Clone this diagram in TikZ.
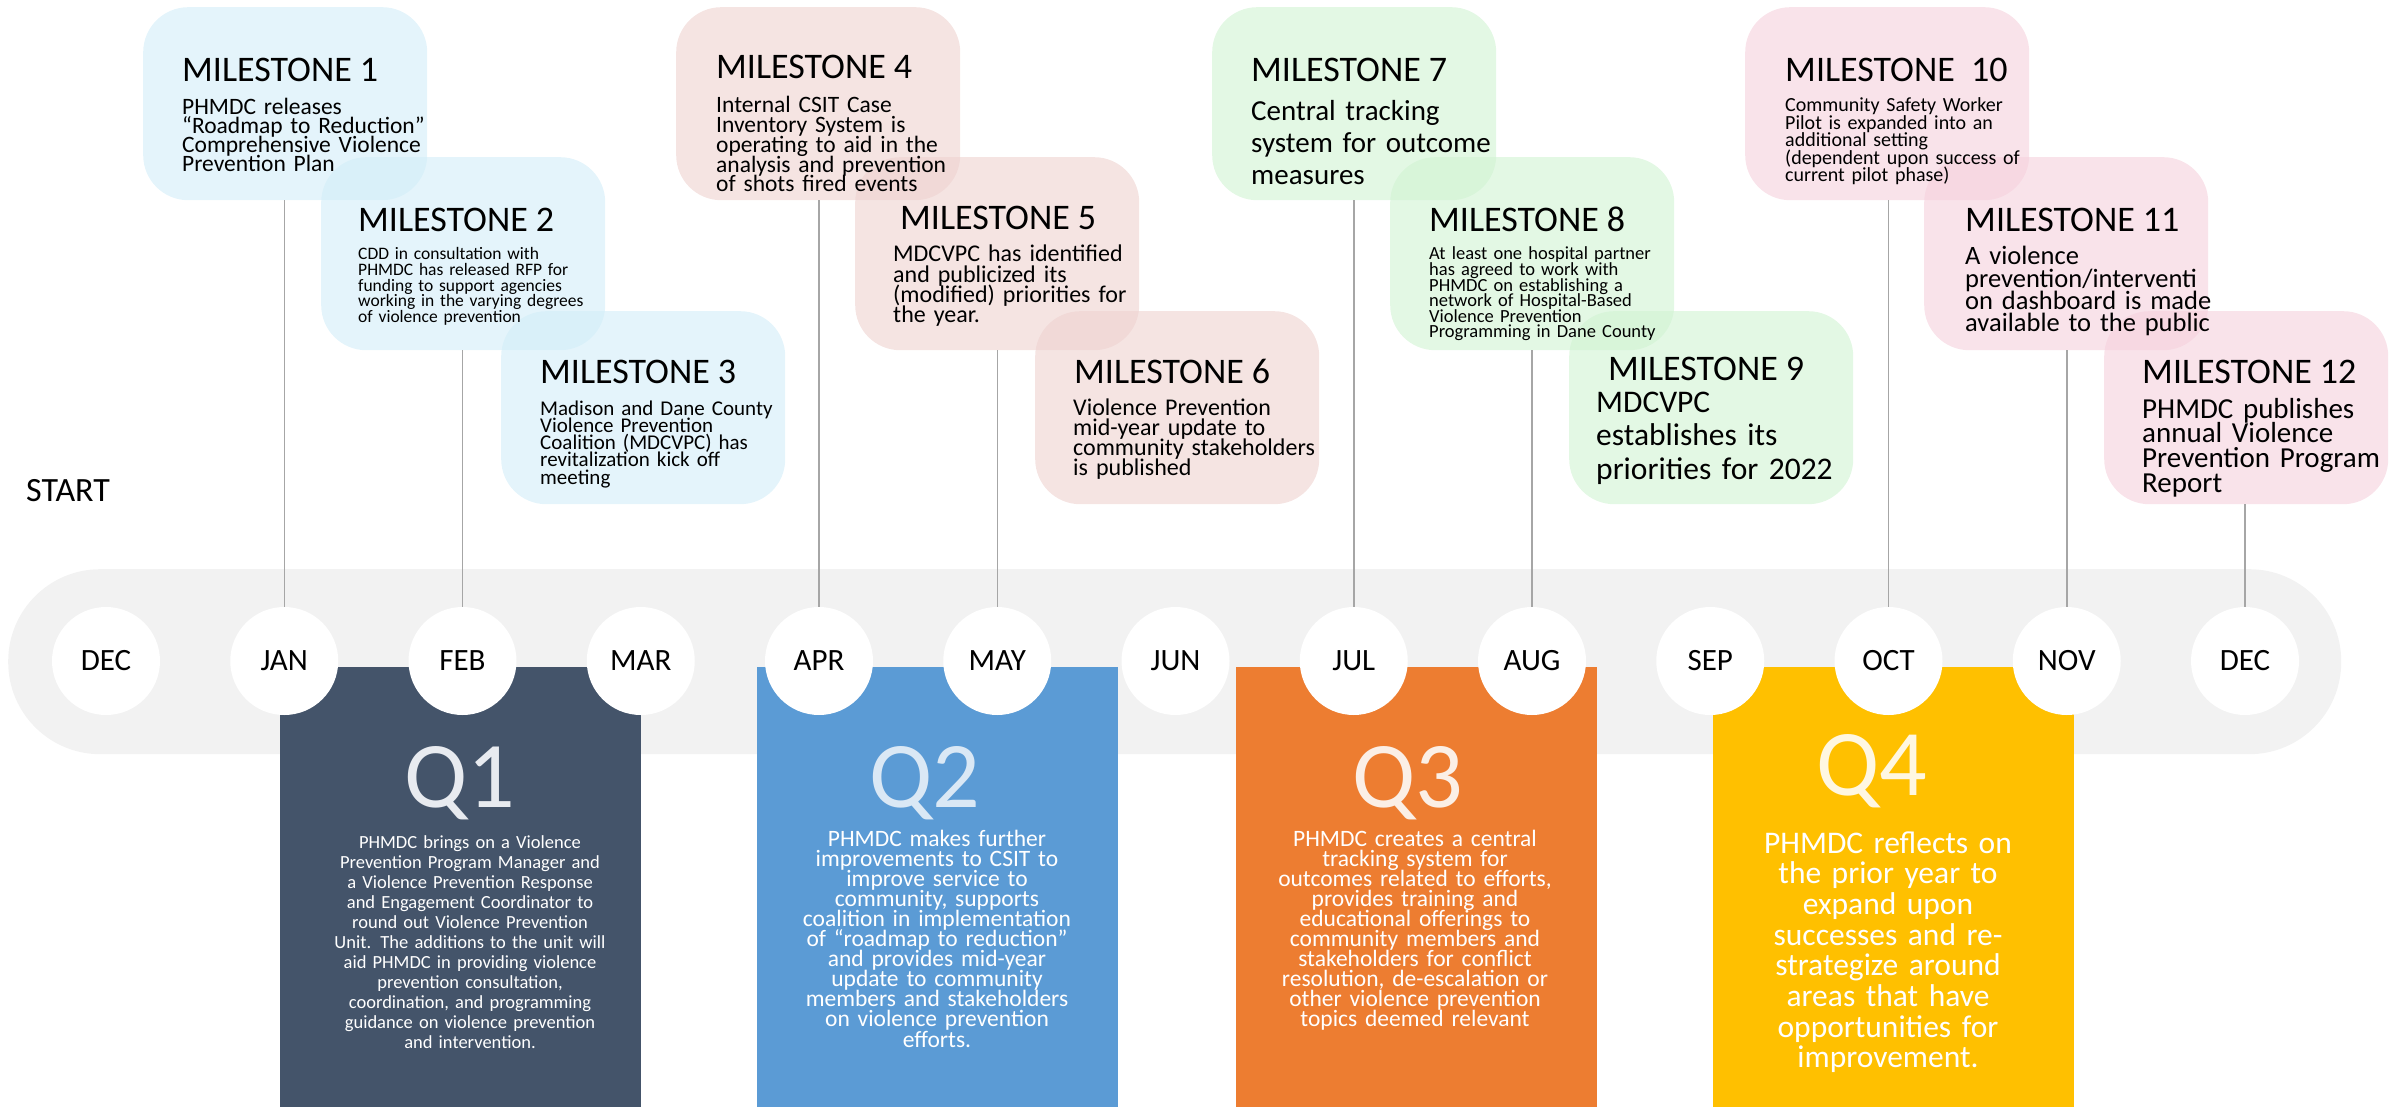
\documentclass[tikz,border=0pt]{standalone}
\usepackage{fontspec}
\setmainfont{Carlito}
\definecolor{bandgray}{HTML}{F2F2F2}
\definecolor{linegray}{HTML}{A6A6A6}
\definecolor{qone}{HTML}{44546A}
\definecolor{qtwo}{HTML}{5B9BD5}
\definecolor{qthree}{HTML}{ED7D31}
\definecolor{qfour}{HTML}{FFC000}
\definecolor{qonel}{HTML}{E8EBF0}
\definecolor{qtwol}{HTML}{DAE8F5}
\definecolor{qthreel}{HTML}{FBEFE6}
\definecolor{qfourl}{HTML}{FFF7E1}
\definecolor{msblue}{RGB}{210,237,248}
\definecolor{msrose}{RGB}{238,210,207}
\definecolor{msgreen}{RGB}{208,243,210}
\definecolor{mspink}{RGB}{245,208,220}
\newcommand\fs[2]{\fontsize{#1}{#2}\selectfont\lineskiplimit=-100pt\relax}
\tikzset{
  msbox/.style={rounded corners=45, minimum width=284, minimum height=193, anchor=north west, inner sep=0, fill opacity=0.6, draw=none},
  mstitle/.style={anchor=base west, inner sep=0, font=\fs{36}{40}},
  msbody/.style={anchor=base west, inner sep=0, text width=300, align=left},
  conn/.style={draw=linegray, line width=1.5},
  month/.style={circle, fill=white, minimum size=108, inner sep=0, font=\fs{31}{36}},
  qbox/.style={anchor=north west, minimum width=361, minimum height=440, inner sep=0},
  qlabel/.style={anchor=base, inner sep=0, font=\fs{94}{100}},
  qbody/.style={anchor=base, inner sep=0, text width=345, align=center, text=white},
}
\begin{document}
\begin{tikzpicture}[x=1pt,y=-1pt]
\useasboundingbox (0,0) rectangle (2399,1107);
% band
\node[fill=bandgray, rounded corners=92, minimum width=2333, minimum height=185, anchor=north west, inner sep=0] (band) at (8,569) {};
% quarter boxes
\node[qbox, fill=qone] (q1box) at (280,667) {};
\node[qbox, fill=qtwo] (q2box) at (757,667) {};
\node[qbox, fill=qthree] (q3box) at (1236,667) {};
\node[qbox, fill=qfour] (q4box) at (1713,667) {};
% months
\node[month] (mdeca) at (106,661) {DEC};
\node[month] (mjan) at (284.25,661) {JAN};
\node[month] (mfeb) at (462.5,661) {FEB};
\node[month] (mmar) at (640.75,661) {MAR};
\node[month] (mapr) at (819,661) {APR};
\node[month] (mmay) at (997.25,661) {MAY};
\node[month] (mjun) at (1175.5,661) {JUN};
\node[month] (mjul) at (1353.75,661) {JUL};
\node[month] (maug) at (1532,661) {AUG};
\node[month] (msep) at (1710.25,661) {SEP};
\node[month] (moct) at (1888.5,661) {OCT};
\node[month] (mnov) at (2066.75,661) {NOV};
\node[month] (mdecb) at (2245,661) {DEC};
% START
\node[anchor=west, inner sep=0, font=\fs{34}{40}] (start) at (26,491) {START};
% milestone boxes
\node[msbox, fill=msblue] (m1) at (143,7) {};
\node[msbox, fill=msblue] (m2) at (321,157) {};
\node[msbox, fill=msblue] (m3) at (501,311) {};
\node[msbox, fill=msrose] (m4) at (676,7) {};
\node[msbox, fill=msrose] (m5) at (855,157) {};
\node[msbox, fill=msrose] (m6) at (1035,311) {};
\node[msbox, fill=msgreen] (m7) at (1212,7) {};
\node[msbox, fill=msgreen] (m8) at (1390,157) {};
\node[msbox, fill=msgreen] (m9) at (1569,311) {};
\node[msbox, fill=mspink] (m10) at (1745,7) {};
\node[msbox, fill=mspink] (m11) at (1924,157) {};
\node[msbox, fill=mspink] (m12) at (2104,311) {};
% connectors
\draw[conn] (m1.south -| mjan) -- (mjan.north);
\draw[conn] (m2.south -| mfeb) -- (mfeb.north);
\draw[conn] (m4.south -| mapr) -- (mapr.north);
\draw[conn] (m5.south -| mmay) -- (mmay.north);
\draw[conn] (m7.south -| mjul) -- (mjul.north);
\draw[conn] (m8.south -| maug) -- (maug.north);
\draw[conn] (m10.south -| moct) -- (moct.north);
\draw[conn] (m11.south -| mnov) -- (mnov.north);
\draw[conn] (m12.south -| mdecb) -- (mdecb.north);
% milestone texts
\node[mstitle] (t1) at (182,82) {MILESTONE 1};
\node[msbody, font=\fs{23.5}{19}] (b1) at (182,115) {PHMDC releases\\“Roadmap to Reduction”\\Comprehensive Violence\\Prevention Plan};
\node[mstitle] (t2) at (358,232) {MILESTONE 2};
\node[msbody, font=\fs{17.5}{15.6}] (b2) at (358,260) {CDD in consultation with\\PHMDC has released RFP for\\funding to support agencies\\working in the varying degrees\\of violence prevention};
\node[mstitle] (t3) at (540,383) {MILESTONE 3};
\node[msbody, font=\fs{21}{17.3}] (b3) at (540,415) {Madison and Dane County\\Violence Prevention\\Coalition (MDCVPC) has\\revitalization kick off\\meeting};
\node[mstitle] (t4) at (716,79) {MILESTONE 4};
\node[msbody, font=\fs{23.5}{19.75}] (b4) at (716,113) {Internal CSIT Case\\Inventory System is\\operating to aid in the\\analysis and prevention\\of shots fired events};
\node[mstitle] (t5) at (900,230) {MILESTONE 5};
\node[msbody, font=\fs{24}{20.3}] (b5) at (893,262) {MDCVPC has identified\\and publicized its\\(modified) priorities for\\the year.};
\node[mstitle] (t6) at (1074,383) {MILESTONE 6};
\node[msbody, font=\fs{24}{20}] (b6) at (1073,415) {Violence Prevention\\mid-year update to\\community stakeholders\\is published};
\node[mstitle] (t7) at (1251,82) {MILESTONE 7};
\node[msbody, font=\fs{29}{32}] (b7) at (1251,121) {Central tracking\\system for outcome\\measures};
\node[mstitle] (t8) at (1429,232) {MILESTONE 8};
\node[msbody, font=\fs{18.5}{15.6}] (b8) at (1429,260) {At least one hospital partner\\has agreed to work with\\PHMDC on establishing a\\network of Hospital-Based\\Violence Prevention\\Programming in Dane County};
\node[mstitle] (t9) at (1608,380) {MILESTONE 9};
\node[msbody, font=\fs{31.5}{33.6}] (b9) at (1596,412) {MDCVPC\\establishes its\\priorities for 2022};
\node[mstitle] (t10) at (1785,82) {MILESTONE\ \ 10};
\node[msbody, font=\fs{20}{17.5}] (b10) at (1785,112) {Community Safety Worker\\Pilot is expanded into an\\additional setting\\(dependent upon success of\\current pilot phase)};
\node[mstitle] (t11) at (1965,232) {MILESTONE 11};
\node[msbody, font=\fs{26.5}{22.3}] (b11) at (1965,265) {A violence\\prevention/interventi\\on dashboard is made\\available to the public};
\node[mstitle] (t12) at (2142,383) {MILESTONE 12};
\node[msbody, font=\fs{29}{24.7}] (b12) at (2142,418) {PHMDC publishes\\annual Violence\\Prevention Program\\Report};
% quarter texts
\node[qlabel, text=qonel] (q1) at (460,807) {Q1};
\node[qlabel, text=qtwol] (q2) at (925,807) {Q2};
\node[qlabel, text=qthreel] (q3) at (1408,807) {Q3};
\node[qlabel, text=qfourl] (q4) at (1872,795) {Q4};
\node[qbody, font=\fs{18.5}{20}] (q1t) at (470,848) {PHMDC brings on a Violence\\Prevention Program Manager and\\a Violence Prevention Response\\and Engagement Coordinator to\\round out Violence Prevention\\Unit. The additions to the unit will\\aid PHMDC in providing violence\\prevention consultation,\\coordination, and programming\\guidance on violence prevention\\and intervention.};
\node[qbody, font=\fs{23.5}{20.1}] (q2t) at (937,846) {PHMDC makes further\\improvements to CSIT to\\improve service to\\community, supports\\coalition in implementation\\of “roadmap to reduction”\\and provides mid-year\\update to community\\members and stakeholders\\on violence prevention\\efforts.};
\node[qbody, font=\fs{23.5}{20.1}] (q3t) at (1415,846) {PHMDC creates a central\\tracking system for\\outcomes related to efforts,\\provides training and\\educational offerings to\\community members and\\stakeholders for conflict\\resolution, de-escalation or\\other violence prevention\\topics deemed relevant};
\node[qbody, font=\fs{31.5}{30.7}] (q4t) at (1888,853) {PHMDC reflects on\\the prior year to\\expand upon\\successes and re-\\strategize around\\areas that have\\opportunities for\\improvement.};
\end{tikzpicture}
\end{document}
